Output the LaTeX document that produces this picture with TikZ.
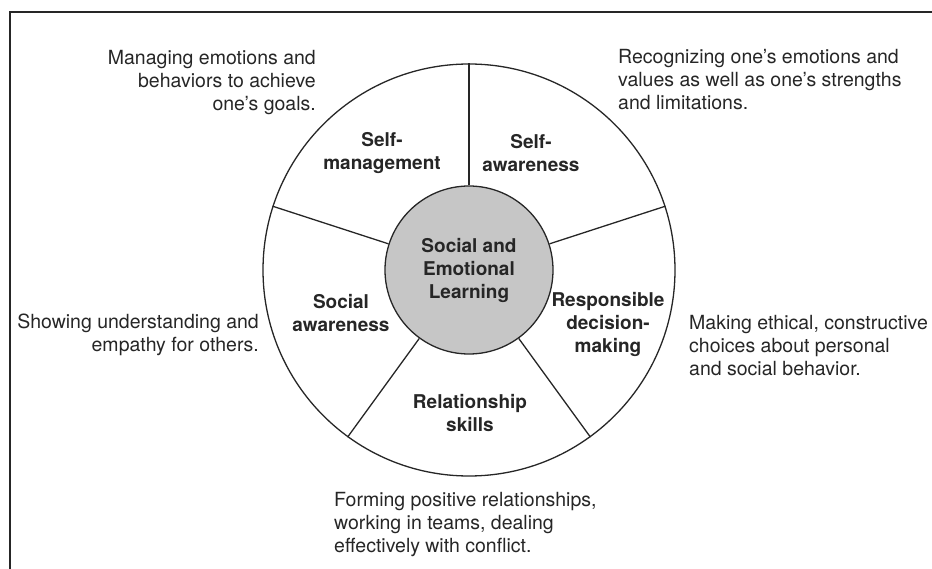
\documentclass[tikz,border=0pt]{standalone}
\usepackage{fontspec}
\setmainfont{TeX Gyre Heros}
\begin{document}
\begin{tikzpicture}[x=1pt,y=-1pt,
  note/.style={font=\fontsize{19.5}{23}\selectfont, text=black!85, inner sep=0pt},
  area/.style={font=\fontsize{19}{23}\selectfont\bfseries, text=black!85, inner sep=0pt, align=center},
  rim/.style={black!85, line width=1.3pt}]

\useasboundingbox (0,0) rectangle (932,569);

% frame
\draw[rim, line width=1.8pt] (10,569) -- (10,12) -- (932,12);

% wheel
\node[rim, draw, circle, minimum size=412pt, inner sep=0pt] (wheel) at (469,270) {};
\node[rim, draw, circle, fill=gray!45, minimum size=168pt, inner sep=0pt,
      area] (core) at (469,270) {Social and\\Emotional\\Learning};

\foreach \a in {90,18,-54,-126,162}
  \draw[rim] (core.\a) -- (wheel.\a);

% areas
\node[area] (mgmt) at (382,153) {Self-\\management};
\node[area] (aware) at (531,153) {Self-\\awareness};
\node[area] (social) at (341,313) {Social\\awareness};
\node[area] (decision) at (608,324) {Responsible\\decision-\\making};
\node[area] (relation) at (470,413) {Relationship\\skills};

% notes
\node[note, anchor=east, align=right] (mgmtnote) at (316,83)
  {Managing emotions and\\behaviors to achieve\\one’s goals.};
\node[note, anchor=west, align=left] (awarenote) at (618,80)
  {Recognizing one’s emotions and\\values as well as one’s strengths\\and limitations.};
\node[note, anchor=east, align=right] (socialnote) at (259,335)
  {Showing understanding and\\empathy for others.};
\node[note, anchor=west, align=left] (decisionnote) at (689,346)
  {Making ethical, constructive\\choices about personal\\and social behavior.};
\node[note, anchor=west, align=left] (relationnote) at (334,525)
  {Forming positive relationships,\\working in teams, dealing\\effectively with conflict.};

\end{tikzpicture}
\end{document}
